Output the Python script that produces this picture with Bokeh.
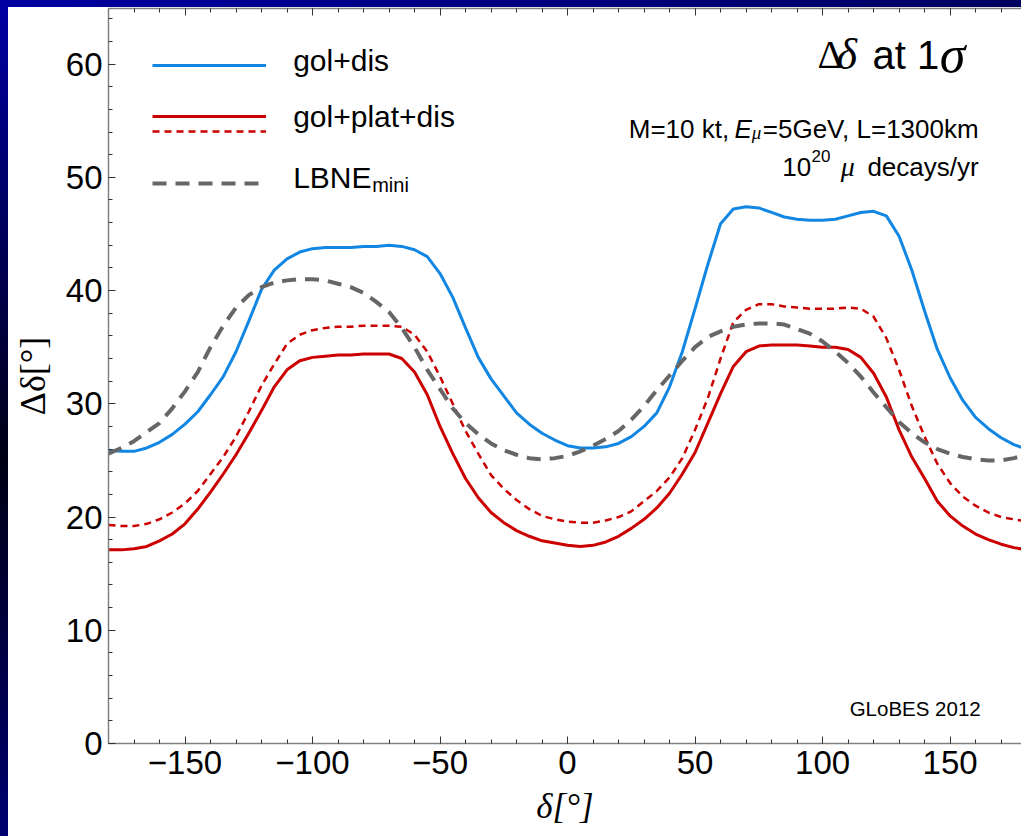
import numpy as np
from bokeh.plotting import figure
from bokeh.layouts import column
from bokeh.models import Range1d, FixedTicker, LinearAxis, Legend, LegendItem, Label, ColumnDataSource
from bokeh.embed import file_html
from bokeh.resources import INLINE

# ---------------- data ----------------
delta = list(range(-180, 181, 5))

gol_dis = [25.9, 25.8, 25.8, 26.1, 26.6, 27.3, 28.2, 29.3, 30.8, 32.4, 34.6,
           37.3, 40.1, 41.8, 42.8, 43.4, 43.7, 43.8, 43.8, 43.8, 43.9, 43.9,
           44.0, 43.9, 43.6, 43.0, 41.5, 39.4, 36.7, 34.1, 32.2, 30.7, 29.2,
           28.2, 27.4, 26.8, 26.3, 26.1, 26.1, 26.2, 26.5, 27.1, 28.0, 29.2,
           31.5, 34.6, 38.4, 42.3, 45.9, 47.2, 47.4, 47.3, 46.9, 46.5, 46.3,
           46.2, 46.2, 46.3, 46.6, 46.9, 47.0, 46.6, 44.8, 41.8, 38.2, 34.8,
           32.3, 30.3, 28.8, 27.8, 27.0, 26.4, 26.0]

gol_plat_dis = [17.1, 17.1, 17.2, 17.4, 17.9, 18.5, 19.4, 20.7, 22.2, 23.8, 25.5,
                27.4, 29.4, 31.5, 33.0, 33.8, 34.1, 34.2, 34.3, 34.3, 34.4, 34.4,
                34.4, 34.0, 32.8, 30.8, 28.0, 25.6, 23.4, 21.7, 20.4, 19.5, 18.8,
                18.3, 17.9, 17.7, 17.5, 17.4, 17.5, 17.8, 18.3, 19.0, 19.8, 20.8,
                22.1, 23.8, 25.7, 28.3, 30.9, 33.3, 34.6, 35.1, 35.2, 35.2, 35.2,
                35.1, 35.0, 35.0, 34.8, 34.1, 32.7, 30.6, 27.7, 25.3, 23.4, 21.4,
                20.1, 19.2, 18.5, 18.0, 17.6, 17.3, 17.1]

gol_plat_dis_alt = [19.3, 19.2, 19.2, 19.4, 19.8, 20.4, 21.2, 22.3, 23.8, 25.3, 27.1,
                    29.3, 31.6, 33.5, 35.3, 36.1, 36.5, 36.7, 36.8, 36.8, 36.9, 36.9,
                    36.9, 36.8, 36.1, 34.6, 32.4, 30.0, 27.6, 25.6, 23.7, 22.5, 21.5,
                    20.7, 20.1, 19.8, 19.6, 19.5, 19.5, 19.7, 20.0, 20.5, 21.4, 22.3,
                    23.5, 25.2, 27.7, 30.5, 34.0, 37.2, 38.3, 38.8, 38.8, 38.6, 38.5,
                    38.4, 38.4, 38.4, 38.5, 38.4, 37.7, 35.8, 33.0, 29.8, 27.1, 24.7,
                    23.0, 21.8, 21.0, 20.4, 20.0, 19.8, 19.6]

lbne_mini = [25.6, 26.1, 26.7, 27.5, 28.3, 29.6, 31.1, 32.8, 35.0, 36.9, 38.5,
             39.6, 40.3, 40.7, 40.9, 41.0, 41.0, 40.9, 40.6, 40.3, 39.8, 39.0,
             38.1, 36.7, 35.0, 33.0, 31.3, 29.6, 28.3, 27.3, 26.5, 25.9, 25.5,
             25.2, 25.1, 25.2, 25.4, 25.8, 26.3, 26.9, 27.6, 28.6, 29.8, 31.2,
             32.5, 33.8, 35.0, 35.9, 36.4, 36.8, 37.0, 37.1, 37.1, 37.0, 36.6,
             36.2, 35.5, 34.6, 33.6, 32.4, 31.0, 29.7, 28.4, 27.4, 26.6, 26.0,
             25.6, 25.3, 25.1, 25.0, 25.0, 25.2, 25.5]

series_labels = ["gol+dis", "gol+plat+dis", "LBNE"]
x_major = [-150, -100, -50, 0, 50, 100, 150]
x_minor = list(range(-180, 181, 10))
y_major = [0, 10, 20, 30, 40, 50, 60]
y_minor = list(range(0, 66, 2))
x_tick_labels = {-150: "\u2212150", -100: "\u2212100", -50: "\u221250"}

BLUE = "#1187e3"
RED = "#cc0000"
GRAY = "#666666"
AXIS = "#808080"
SANS = "Liberation Sans"
SERIF = "Liberation Serif"

src = ColumnDataSource(dict(d=delta, a=gol_dis, b=gol_plat_dis, c=gol_plat_dis_alt, g=lbne_mini))

p = figure(width=1013, height=829, output_backend="svg", toolbar_location=None,
           x_range=Range1d(-180, 178.0), y_range=Range1d(0, 64.91),
           min_border_left=100, min_border_right=0, min_border_top=1, min_border_bottom=93)
p.margin = (7, 0, 0, 8)
p.xgrid.visible = False
p.ygrid.visible = False
p.outline_line_color = None
p.background_fill_color = "white"
p.border_fill_color = "white"


def style_axis(ax, ticks, minor, labels=True):
    ax.ticker = FixedTicker(ticks=ticks, minor_ticks=minor)
    ax.axis_line_color = AXIS
    ax.axis_line_width = 1.5
    ax.major_tick_line_color = "#333333"
    ax.minor_tick_line_color = "#333333"
    ax.major_tick_in = 7
    ax.major_tick_out = 0
    ax.minor_tick_in = 4
    ax.minor_tick_out = 0
    ax.major_label_text_font = SANS
    ax.major_label_text_color = "black"
    if labels:
        ax.major_label_text_font_size = "33px"
    else:
        ax.major_label_overrides = {t: "" for t in ticks}
        ax.major_label_text_font_size = "1px"
        ax.major_label_standoff = 0


xb = p.below[0]
style_axis(xb, x_major, x_minor)
xb.major_label_overrides = x_tick_labels
xb.major_label_standoff = 7
xb.axis_label = "\u03b4[\u00b0]"
xb.axis_label_text_font = SERIF
xb.axis_label_text_font_style = "italic"
xb.axis_label_text_font_size = "35px"
xb.axis_label_text_color = "black"
xb.axis_label_standoff = 10

yl = p.left[0]
style_axis(yl, y_major, y_minor)
yl.major_label_standoff = 6
yl.axis_label = "\u0394\u03b4[\u00b0]"
yl.axis_label_text_font = SERIF
yl.axis_label_text_font_style = "normal"
yl.axis_label_text_font_size = "36px"
yl.axis_label_text_color = "black"
yl.axis_label_standoff = 10

xt = LinearAxis()
style_axis(xt, x_major, x_minor, labels=False)
p.add_layout(xt, "above")

# curves
r_blue = p.line("d", "a", source=src, line_color=BLUE, line_width=3)
r_red = p.line("d", "b", source=src, line_color=RED, line_width=3)
r_red2 = p.line("d", "c", source=src, line_color=RED, line_width=2.5, line_dash="7 5")
r_gray = p.line("d", "g", source=src, line_color=GRAY, line_width=4, line_dash="14 9")

# legend line samples (each its own legend, placed in screen pixels from the frame's bottom-left)
for r, ly in [(r_blue, 658.4), (r_red, 606.7), (r_red2, 591.7), (r_gray, 540.0)]:
    lg = Legend(items=[LegendItem(label=" ", renderers=[r])], location=(44, ly),
                glyph_width=114, glyph_height=40, label_height=40,
                label_text_font=SANS, label_text_font_size="30px", label_text_color="black",
                label_standoff=26, padding=0, margin=0, spacing=0,
                border_line_color=None, background_fill_alpha=0)
    p.add_layout(lg)


def lab(x, y, text, size, font=SANS, style="normal", align="left"):
    p.add_layout(Label(x=x, y=y, text=text, text_font=font, text_font_size=size,
                       text_font_style=style, text_align=align, text_baseline="alphabetic",
                       text_color="black"))


# legend texts
lab(-107.6, 60.36, series_labels[0], "30px")
lab(-107.6, 55.41, series_labels[1], "30px")
lab(-107.6, 49.97, series_labels[2], "30px")
lab(-76.6, 49.34, "mini", "20px")

# title
lab(98.0, 60.82, "\u0394", "40px", font=SERIF)
lab(105.5, 60.82, "\u03b4", "44px", font=SERIF, style="italic")
lab(119.6, 60.82, "at 1", "40px")
lab(145.9, 60.82, "\u03c3", "52px", font=SERIF, style="italic")

# subtitle
lab(24.0, 54.29, "M=10 kt,", "26px")
lab(65.5, 54.29, "E", "26px", style="italic")
lab(72.2, 53.93, "\u03bc", "19px", font=SERIF, style="italic")
lab(161.2, 54.29, "=5GeV, L=1300km", "26px", align="right")
lab(84.2, 50.94, "10", "26px")
lab(95.7, 51.91, "20", "17px")
lab(107.1, 50.94, "\u03bc", "28px", font=SERIF, style="italic")
lab(161.2, 50.94, "decays/yr", "26px", align="right")

# watermark
lab(162.0, 3.10, "GLoBES 2012", "20.5px", align="right")

root = column(p, styles={
    "background-color": "white",
    "background-image": "linear-gradient(to right, #0000a0, #000060), "
                        "linear-gradient(to bottom, #0000a4 0%, #000014 55%, #000070 100%)",
    "background-size": "100% 7px, 8px 100%",
    "background-position": "left top, left top",
    "background-repeat": "no-repeat, no-repeat",
})

open("out.html", "w").write(file_html(root, INLINE))
